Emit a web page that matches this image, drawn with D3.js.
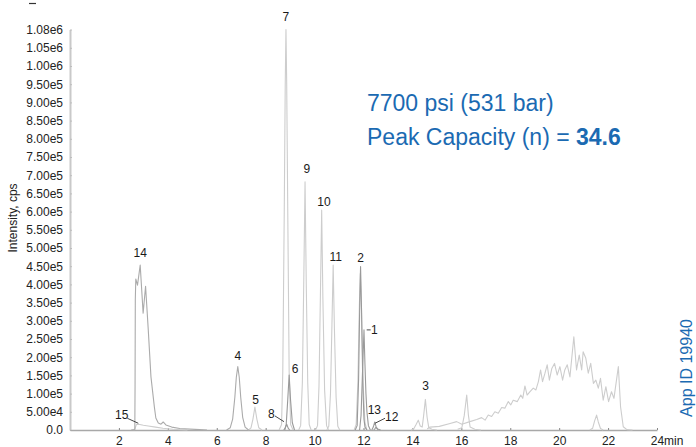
<!DOCTYPE html>
<html>
<head>
<meta charset="utf-8">
<script src="https://cdn.jsdelivr.net/npm/d3@7/dist/d3.min.js"></script>
<style>
  html, body { margin: 0; padding: 0; background: #fff; }
  svg { display: block; font-family: "Liberation Sans", Arial, Helvetica, sans-serif; }
</style>
</head>
<body>
<svg id="chart" width="696" height="447"></svg>
<script>
// Extracted-ion chromatogram traces: [retention time (min), intensity (cps)]
const peak15 = [[2.6,0],[2.66,4e3],[2.72,1.6e4],[2.85,1.5e4],[3.0,1.3e4],[3.2,1.1e4],[3.5,8e3],[3.8,5e3],[4.2,2e3],[4.8,0]];
const peak14 = [[2.5,0],[2.65,1e3],[2.66,1.2e5],[2.67,3.57e5],[2.69,4.15e5],[2.76,3.98e5],[2.87,4.53e5],[2.99,3.21e5],[3.09,3.95e5],[3.2,2.75e5],[3.31,1.46e5],[3.45,6.3e4],[3.51,3.3e4],[3.61,1.9e4],[3.72,1.6e4],[3.81,2.2e4],[3.92,1.4e4],[4.16,8e3],[4.49,4e3],[5.3,1e3],[5.6,0]];
const peak4 = [[6.4,0],[6.55,6e3],[6.65,3e4],[6.74,9e4],[6.8,1.45e5],[6.86,1.74e5],[6.92,1.45e5],[6.98,9e4],[7.06,3.5e4],[7.16,8e3],[7.3,0]];
const peak5 = [[7.3,0],[7.4,6e3],[7.48,3e4],[7.56,6.3e4],[7.64,3e4],[7.72,6e3],[7.85,0]];
const peak7 = [[8.55,0],[8.65,1.5e4],[8.7,1.6e5],[8.76,6.0e5],[8.8,9.5e5],[8.83,1.08e6],[8.86,9.5e5],[8.91,5.5e5],[8.96,1.6e5],[9.02,1.5e4],[9.12,0]];
const peak8 = [[8.74,0],[8.8,6e3],[8.86,1.6e4],[8.92,5e3],[8.98,0]];
const peak6 = [[8.78,0],[8.84,1.5e4],[8.9,8e4],[8.96,1.51e5],[9.02,8e4],[9.09,2e4],[9.18,0]];
const peak9 = [[9.35,0],[9.43,1.2e4],[9.5,1.3e5],[9.56,4.2e5],[9.61,6.82e5],[9.66,4.0e5],[9.72,1.3e5],[9.78,1.5e4],[9.86,0]];
const peak10 = [[10.04,0],[10.12,1.2e4],[10.18,1.2e5],[10.24,3.8e5],[10.29,6.04e5],[10.34,3.6e5],[10.41,1.1e5],[10.49,1.2e4],[10.57,0]];
const peak11 = [[10.5,0],[10.58,1e4],[10.65,1e5],[10.71,2.9e5],[10.76,4.53e5],[10.81,2.8e5],[10.88,9e4],[10.95,1e4],[11.03,0]];
const peak2b = [[11.62,0],[11.7,1.5e4],[11.77,1.3e5],[11.83,3.4e5],[11.87,4.3e5],[11.92,3.2e5],[11.99,1.2e5],[12.06,2e4],[12.14,0]];
const peak2 = [[11.66,0],[11.74,1.2e4],[11.8,1.4e5],[11.85,3.6e5],[11.88,4.49e5],[11.92,3.3e5],[11.97,1.3e5],[12.02,3e4],[12.06,8e3],[12.14,0]];
const peak1 = [[11.84,0],[11.9,4e4],[11.96,1.6e5],[12.02,2.75e5],[12.06,1.8e5],[12.1,1.0e5],[12.14,5e4],[12.2,1.2e4],[12.28,0]];
const peak13 = [[12.34,0],[12.4,8e3],[12.46,2.2e4],[12.52,8e3],[12.6,0]];
const peak12 = [[12.42,0],[12.47,4e3],[12.5,7e3],[12.58,3e3],[12.7,0]];
const peak3 = [[13.95,0],[14.05,3e3],[14.15,1.5e4],[14.24,2.7e4],[14.32,1.1e4],[14.4,8e3],[14.46,4e4],[14.53,8.4e4],[14.6,3.5e4],[14.67,6e3],[14.8,2e3],[15.0,0]];
const peak16 = [[15.85,2e3],[16.02,6e3],[16.12,4e4],[16.22,9.6e4],[16.29,4e4],[16.36,8e3],[16.55,2e3],[16.8,0]];
const lateHump = [[14.6,3e3],[14.72,8e3],[15.1,1e4],[15.54,1.8e4],[15.81,2.3e4],[16.02,1.6e4],[16.35,2.3e4],[16.63,2.9e4],[16.83,3.4e4],[16.97,2.7e4],[17.1,4.1e4],[17.24,3.7e4],[17.37,5.0e4],[17.51,4.6e4],[17.65,6.2e4],[17.78,6.0e4],[17.92,7.8e4],[18.02,6.9e4],[18.12,8.2e4],[18.29,7.8e4],[18.43,9.6e4],[18.51,8.7e4],[18.6,1.21e5],[18.69,9.6e4],[18.8,1.05e5],[18.94,1.15e5],[19.05,1.1e5],[19.15,1.33e5],[19.24,1.65e5],[19.32,1.33e5],[19.42,1.56e5],[19.51,1.79e5],[19.6,1.37e5],[19.7,1.69e5],[19.81,1.83e5],[19.92,1.51e5],[20.03,1.74e5],[20.14,1.37e5],[20.23,1.65e5],[20.33,1.79e5],[20.44,1.46e5],[20.6,2.56e5],[20.71,1.65e5],[20.82,2.06e5],[20.92,1.65e5],[20.98,2.15e5],[21.09,1.97e5],[21.19,1.56e5],[21.29,1.83e5],[21.4,1.28e5],[21.5,1.37e5],[21.6,1.15e5],[21.69,1.42e5],[21.8,8.2e4],[21.91,1.19e5],[22.02,7.8e4],[22.14,1.05e5],[22.24,8.7e4],[22.42,1.74e5],[22.51,6.4e4],[22.62,9e3],[22.77,1e3],[23.0,0]];
const peak21 = [[21.25,0],[21.37,5e3],[21.45,2.5e4],[21.53,4.1e4],[21.6,2.2e4],[21.69,4e3],[21.8,0]];

// Axis ticks
const xTicks = [2, 4, 6, 8, 10, 12, 14, 16, 18, 20, 22, 24];
const yTicks = [0, 5e4, 1e5, 1.5e5, 2e5, 2.5e5, 3e5, 3.5e5, 4e5, 4.5e5, 5e5, 5.5e5, 6e5, 6.5e5, 7e5, 7.5e5, 8e5, 8.5e5, 9e5, 9.5e5, 1e6, 1.05e6, 1.08e6];

// Annotation text
const titleLine1 = "7700 psi (531 bar)";
const titleLine2 = "Peak Capacity (n) = ";
const peakCapacity = "34.6";
const appId = "App ID 19940";

// Draw order (light traces underneath, darker ones on top) and stroke tones
const traces = [
  { id: "15", data: peak15, tone: "light" },
  { id: "hump", data: lateHump, tone: "light" },
  { id: "16", data: peak16, tone: "light" },
  { id: "21", data: peak21, tone: "light" },
  { id: "3", data: peak3, tone: "light" },
  { id: "5", data: peak5, tone: "light" },
  { id: "4", data: peak4, tone: "mid" },
  { id: "7", data: peak7, tone: "light" },
  { id: "9", data: peak9, tone: "light" },
  { id: "10", data: peak10, tone: "light" },
  { id: "11", data: peak11, tone: "light" },
  { id: "2b", data: peak2b, tone: "light" },
  { id: "14", data: peak14, tone: "mid" },
  { id: "6", data: peak6, tone: "dark" },
  { id: "8", data: peak8, tone: "dark" },
  { id: "2", data: peak2, tone: "dark" },
  { id: "1", data: peak1, tone: "dark" },
  { id: "13", data: peak13, tone: "dark" },
  { id: "12", data: peak12, tone: "dark" }
];
const toneStyle = {
  light: { stroke: "#cdcdcd", width: 1.1 },
  mid:   { stroke: "#ababab", width: 1.1 },
  dark:  { stroke: "#9a9a9a", width: 1.1 }
};

// Peak-number labels, placed relative to the apex of their trace (pixel offsets)
const labelLayout = [
  { id: "14", dx: 0, dy: -12.4 },
  { id: "15", dx: -14.8, dy: -9.2, lead: [-9.2, -5.9, 1.8, -0.9] },
  { id: "4", dx: 0, dy: -10.7 },
  { id: "5", dx: 0.8, dy: -7.8 },
  { id: "7", dx: 0, dy: -12.5 },
  { id: "8", dx: -15.4, dy: -10.9, lead: [-11.7, -8.2, -2.7, -2.5] },
  { id: "6", dx: 6, dy: -6.7 },
  { id: "9", dx: 1.7, dy: -13.5 },
  { id: "10", dx: 2.3, dy: -8.4 },
  { id: "11", dx: 2.5, dy: -8.4 },
  { id: "2", dx: 0.1, dy: -9.3 },
  { id: "1", dx: 10.3, dy: 0, lead: [2.7, 0, 6.7, 0] },
  { id: "13", dx: -0.4, dy: -12.7 },
  { id: "12", dx: 16, dy: -10.8, lead: [-0.7, -4.2, 9.3, -9.2] },
  { id: "3", dx: 0.3, dy: -13.4 }
];

const svg = d3.select("#chart");

const x = d3.scaleLinear().domain([0, 24]).range([70, 657]);
// top label marks the trace maximum, so the last segment is stretched to the axis top
const y = d3.scaleLinear().domain([0, 1.05e6, 1.08e6]).range([430, 47.8, 29.5]);

const fmtY = v => v === 0 ? "0.0" : d3.format(".2e")(v).replace("+", "");

// Y axis
const yAxis = svg.append("g")
  .attr("transform", "translate(70,0)")
  .call(d3.axisLeft(y).tickValues(yTicks).tickFormat(fmtY)
    .tickSizeInner(-2).tickSizeOuter(0).tickPadding(7));
yAxis.select(".domain").attr("stroke", "#c9c9c9").attr("stroke-width", 2);
yAxis.selectAll(".tick line").attr("stroke", "#bdbdbd");
yAxis.selectAll(".tick text").attr("font-size", 12).attr("fill", "#222")
  .attr("font-family", "'Liberation Sans', Arial, sans-serif");

// X axis
const xAxis = svg.append("g")
  .attr("transform", "translate(0,430)")
  .call(d3.axisBottom(x).tickValues(xTicks)
    .tickSizeInner(-2).tickSizeOuter(0).tickPadding(6));
xAxis.select(".domain").attr("stroke", "#a8a8a8").attr("stroke-width", 1.5);
xAxis.selectAll(".tick line").attr("stroke", "#888");
xAxis.selectAll(".tick text").attr("font-size", 12).attr("fill", "#222")
  .attr("font-family", "'Liberation Sans', Arial, sans-serif");

svg.append("text")
  .attr("x", 664).attr("y", 444.5)
  .attr("font-size", 12).attr("fill", "#222")
  .text("min");

// Y axis title
svg.append("text")
  .attr("transform", "translate(17,218) rotate(-90)")
  .attr("text-anchor", "middle")
  .attr("font-size", 12).attr("fill", "#222")
  .text("Intensity, cps");

// small mark at the top-left corner
svg.append("line")
  .attr("x1", 29).attr("x2", 36).attr("y1", 3.5).attr("y2", 3.5)
  .attr("stroke", "#333").attr("stroke-width", 1.2);

// Traces
const line = d3.line().x(d => x(d[0])).y(d => y(d[1]));
const traceGroup = svg.append("g").attr("fill", "none").attr("stroke-linejoin", "round");
traceGroup.selectAll("path")
  .data(traces)
  .join("path")
  .attr("d", d => line(d.data))
  .attr("stroke", d => toneStyle[d.tone].stroke)
  .attr("stroke-width", d => toneStyle[d.tone].width);

// Peak labels
const apexOf = id => {
  const t = traces.find(s => s.id === id);
  return t.data.reduce((a, b) => (b[1] > a[1] ? b : a));
};
const labelGroup = svg.append("g");
labelLayout.forEach(l => {
  const a = apexOf(l.id);
  const ax = x(a[0]), ay = y(a[1]);
  if (l.lead) {
    labelGroup.append("line")
      .attr("x1", ax + l.lead[0]).attr("y1", ay + l.lead[1])
      .attr("x2", ax + l.lead[2]).attr("y2", ay + l.lead[3])
      .attr("stroke", "#333").attr("stroke-width", 0.9);
  }
  labelGroup.append("text")
    .attr("x", ax + l.dx).attr("y", ay + l.dy + 4.3)
    .attr("text-anchor", "middle")
    .attr("font-size", 12).attr("fill", "#1a1a1a")
    .text(l.id);
});

// Run conditions
const blue = "#1b6ab2";
svg.append("text")
  .attr("x", 367).attr("y", 111)
  .attr("font-size", 23).attr("fill", blue)
  .text(titleLine1);
const t2 = svg.append("text")
  .attr("x", 367).attr("y", 145)
  .attr("font-size", 23).attr("fill", blue);
t2.append("tspan").text(titleLine2);
t2.append("tspan").attr("font-weight", "bold").text(peakCapacity);

svg.append("text")
  .attr("transform", "translate(692,368) rotate(-90)")
  .attr("text-anchor", "middle")
  .attr("font-size", 16).attr("fill", blue)
  .text(appId);
</script>
</body>
</html>
